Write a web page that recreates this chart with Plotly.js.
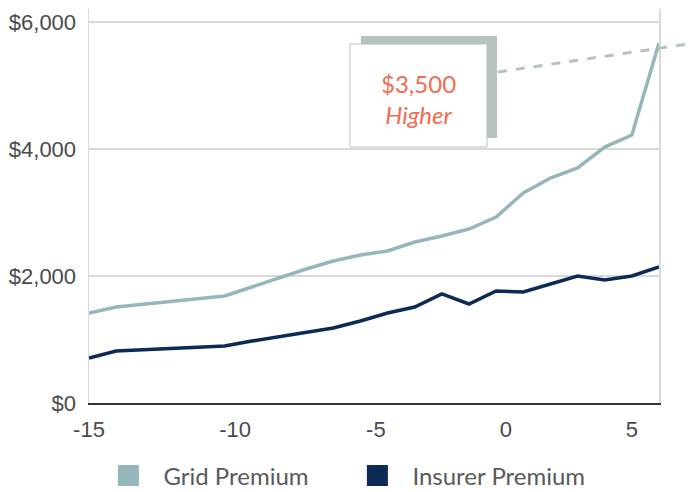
<!DOCTYPE html>
<html>
<head>
<meta charset="utf-8">
<script src="https://cdn.plot.ly/plotly-3.0.1.min.js"></script>
<style>html,body{margin:0;padding:0;background:#fff;}#chart{width:696px;height:492px;}</style>
</head>
<body>
<div id="chart"></div>
<script>
// Years relative to reference point
const years = [-15,-14,-13,-12,-11,-10,-9,-8,-7,-6,-5,-4,-3,-2,-1,0,1,2,3,4,5,6];
const gridPremium = [1417,1512,1555,1600,1640,1685,1827,1969,2110,2236,2331,2394,2535,2630,2740,2929,3307,3543,3701,4031,4220,5669];
const insurerPremium = [709,819,840,860,880,898,976,1040,1110,1181,1291,1417,1512,1717,1559,1764,1748,1874,2000,1937,2000,2142];
const xTickVals = [-15,-9.62,-4.43,0.36,5];
const xTickText = ["-15","-10","-5","0","5"];
const yTickVals = [0,2000,4000,6000];
const yTickText = ["$0","$2,000","$4,000","$6,000"];
const seriesNames = ["Grid Premium","Insurer Premium"];
const calloutText = "$3,500<br><i>Higher</i>";

const gridColor = "#97b6bc";
const insurerColor = "#0b2a55";
const accent = "#b5c3c0";

const traces = [
  {x: years, y: gridPremium, type: "scatter", mode: "lines", name: seriesNames[0],
   line: {color: gridColor, width: 3.5}, showlegend: false, hoverinfo: "x+y"},
  {x: years, y: insurerPremium, type: "scatter", mode: "lines", name: seriesNames[1],
   line: {color: insurerColor, width: 3.5}, showlegend: false, hoverinfo: "x+y"},
  {x: [null], y: [null], type: "scatter", mode: "markers", name: seriesNames[0],
   marker: {symbol: "square", size: 16, color: gridColor, line: {color: gridColor, width: 5}}},
  {x: [null], y: [null], type: "scatter", mode: "markers", name: seriesNames[1],
   marker: {symbol: "square", size: 16, color: insurerColor, line: {color: insurerColor, width: 5}}}
];

const layout = {
  width: 696, height: 492,
  margin: {l: 89, r: 37, t: 9, b: 89, autoexpand: false},
  paper_bgcolor: "#fff", plot_bgcolor: "#fff",
  font: {family: "Liberation Sans, Arial, sans-serif", size: 22, color: "#4a4a4a"},
  xaxis: {
    range: [-15, 6], tickmode: "array", tickvals: xTickVals, ticktext: xTickText,
    showgrid: false, zeroline: false, showline: true, linecolor: "#333", linewidth: 1.5,
    ticks: "", ticklabelstandoff: 6, tickfont: {size: 22, color: "#4a4a4a"}
  },
  yaxis: {
    range: [0, 6205], tickmode: "array", tickvals: yTickVals, ticktext: yTickText,
    showgrid: true, gridcolor: "#d9d9d9", gridwidth: 1.5, zeroline: false,
    showline: true, linecolor: "#d9d9d9", linewidth: 1.5, mirror: true,
    ticks: "", ticklabelstandoff: 7, tickfont: {size: 22, color: "#4a4a4a"}
  },
  showlegend: true,
  legend: {
    orientation: "h", x: 0.0077, xanchor: "left", y: -0.185, yanchor: "middle",
    itemwidth: 60, entrywidth: 174, entrywidthmode: "pixels",
    font: {family: "Lato, sans-serif", size: 24, color: "#5a5a5a"},
    bgcolor: "rgba(0,0,0,0)"
  },
  shapes: [
    {type: "line", xref: "paper", yref: "paper", x0: 0.7175, y0: 0.8401, x1: 1.0509, y1: 0.9112,
     line: {color: accent, width: 3, dash: "dash"}, layer: "above"},
    {type: "rect", xref: "paper", yref: "paper", x0: 0.4772, x1: 0.7158, y0: 0.6726, y1: 0.9315,
     fillcolor: accent, line: {width: 0}, layer: "above"},
    {type: "rect", xref: "paper", yref: "paper", x0: 0.4579, x1: 0.6982, y0: 0.6497, y1: 0.9112,
     fillcolor: "#ffffff", line: {color: accent, width: 1}, layer: "above"}
  ],
  annotations: [
    {xref: "paper", yref: "paper", x: 0.578, y: 0.772, xanchor: "center", yanchor: "middle",
     text: calloutText, showarrow: false, align: "center",
     font: {family: "Lato, sans-serif", size: 24, color: "#f26b52"}}
  ]
};

Plotly.newPlot("chart", traces, layout, {displayModeBar: false, staticPlot: true});
</script>
</body>
</html>
